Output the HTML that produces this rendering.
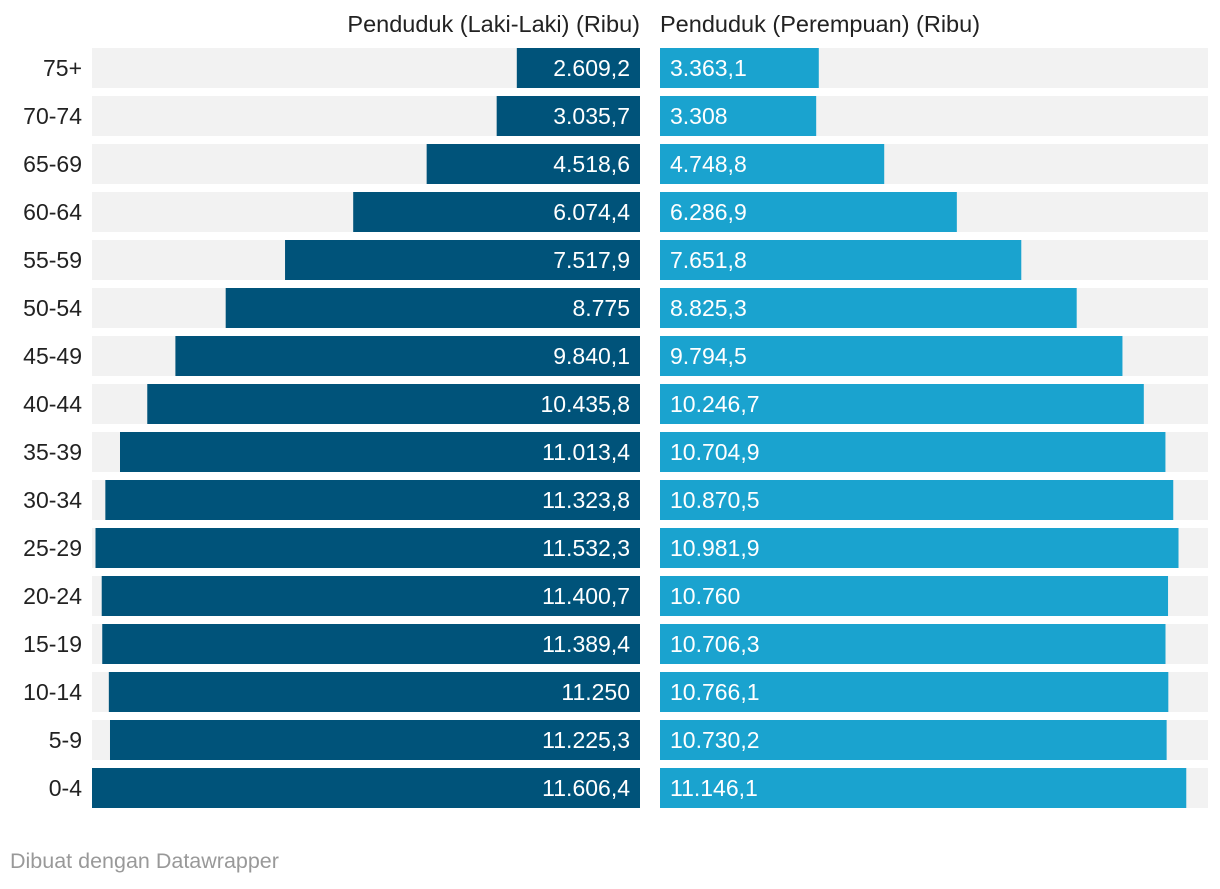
<!DOCTYPE html>
<html>
<head>
<meta charset="utf-8">
<style>
  html,body{margin:0;padding:0;background:#fff;}
  body{width:1220px;height:884px;position:relative;overflow:hidden;font-family:"Liberation Sans",sans-serif;}
  svg text{font-family:"Liberation Sans",sans-serif;}
</style>
</head>
<body>
<svg id="chart" width="1220" height="884" xmlns="http://www.w3.org/2000/svg">
  <text x="640" y="32" text-anchor="end" font-size="23.5" fill="#222">Penduduk (Laki-Laki) (Ribu)</text>
  <text x="660" y="32" text-anchor="start" font-size="23.5" fill="#222">Penduduk (Perempuan) (Ribu)</text>
  <g id="rows"></g>
  <text x="10" y="868" font-size="21.5" fill="#999">Dibuat dengan Datawrapper</text>
</svg>
<script>
const ageGroups = ["75+","70-74","65-69","60-64","55-59","50-54","45-49","40-44","35-39","30-34","25-29","20-24","15-19","10-14","5-9","0-4"];
const maleValues = [2609.2,3035.7,4518.6,6074.4,7517.9,8775,9840.1,10435.8,11013.4,11323.8,11532.3,11400.7,11389.4,11250,11225.3,11606.4];
const femaleValues = [3363.1,3308,4748.8,6286.9,7651.8,8825.3,9794.5,10246.7,10704.9,10870.5,10981.9,10760,10706.3,10766.1,10730.2,11146.1];

const NS = "http://www.w3.org/2000/svg";
const trackW = 548, leftEnd = 640, rightStart = 660, top0 = 48, step = 48, barH = 40;
const maxVal = Math.max(...maleValues, ...femaleValues);
const xScale = v => v / maxVal * trackW;
const yPos = i => top0 + i * step;
const fmt = v => {
  const parts = v.toString().split(".");
  const intPart = parts[0].replace(/\B(?=(\d{3})+(?!\d))/g, ".");
  return parts[1] ? intPart + "," + parts[1] : intPart;
};
const g = document.getElementById("rows");
function mk(tag, attrs) {
  const el = document.createElementNS(NS, tag);
  for (const k in attrs) el.setAttribute(k, attrs[k]);
  return el;
}
ageGroups.forEach((age, i) => {
  const y = yPos(i);
  const lbl = mk("text", {x: 82, y: y + 28, "text-anchor": "end", "font-size": 23, fill: "#222"});
  
  
  lbl.textContent = age;
  g.appendChild(lbl);

  const lbg = mk("rect", {x: leftEnd - trackW, y: y, width: trackW, height: barH, fill: "#f2f2f2"});
  
  
  g.appendChild(lbg);
  const rbg = mk("rect", {x: rightStart, y: y, width: trackW, height: barH, fill: "#f2f2f2"});
  
  
  g.appendChild(rbg);

  const mw = xScale(maleValues[i]);
  const mb = mk("rect", {x: leftEnd - mw, y: y, width: mw, height: barH, fill: "#00537a"});
  
  
  g.appendChild(mb);
  const fw = xScale(femaleValues[i]);
  const fb = mk("rect", {x: rightStart, y: y, width: fw, height: barH, fill: "#1aa3cf"});
  
  
  g.appendChild(fb);

  const mv = mk("text", {x: leftEnd - 10, y: y + 28, "text-anchor": "end", "font-size": 23, fill: "#fff"});
  
  
  mv.textContent = fmt(maleValues[i]);
  g.appendChild(mv);
  const fv = mk("text", {x: rightStart + 10, y: y + 28, "text-anchor": "start", "font-size": 23, fill: "#fff"});
  
  
  fv.textContent = fmt(femaleValues[i]);
  g.appendChild(fv);
});
</script>
</body>
</html>
